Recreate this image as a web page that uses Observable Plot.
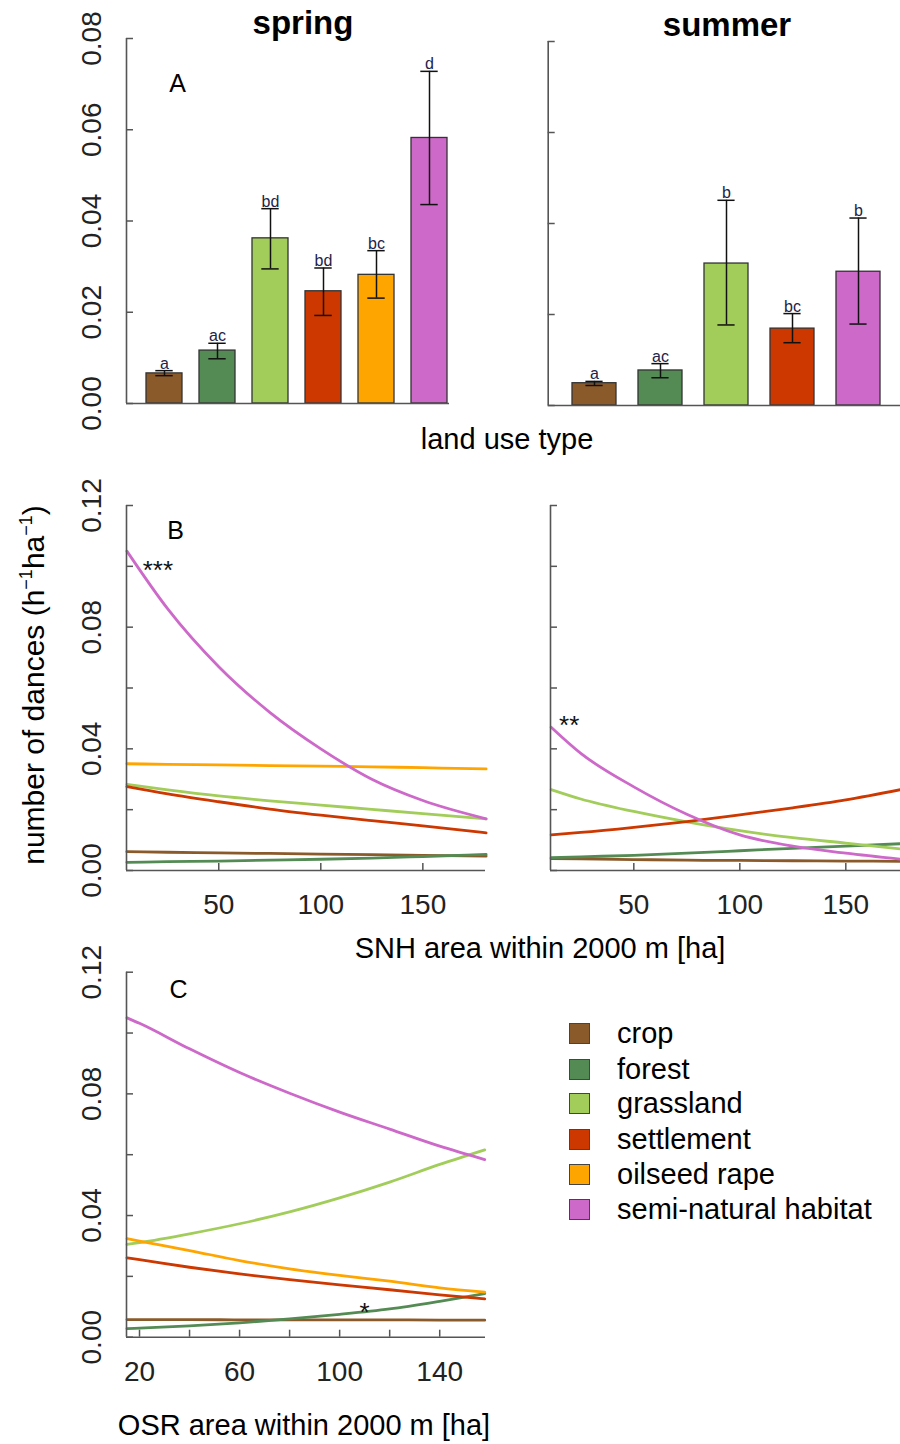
<!DOCTYPE html>
<html><head><meta charset="utf-8">
<script src="https://cdn.jsdelivr.net/npm/d3@7"></script>
<script src="https://cdn.jsdelivr.net/npm/@observablehq/plot@0.6"></script>
<style>
body{margin:0;background:#fff;}
#root{position:relative;width:900px;height:1444px;overflow:hidden;background:#fff;font-family:"Liberation Sans",Arial,sans-serif;color:#000;}
.lbl{position:absolute;white-space:nowrap;line-height:1;transform:translate(-50%,-50%);}
.leg{position:absolute;display:flex;align-items:center;white-space:nowrap;font-size:29px;line-height:1;}
.sw{width:21px;height:21px;border:1px solid #444;box-sizing:border-box;margin-right:27px;}
</style></head><body><div id="root"></div><script>
// ---------- data ----------
const categories = ["crop","forest","grassland","settlement","oilseed rape","semi-natural habitat"];
const colors = ["#8B5A2B","#548B54","#A2CD5A","#CD3700","#FFA500","#CD69C9"];

// Panel A: mean number of dances per land use type (h-1 ha-1) with error bars
const springCats = ["crop","forest","grassland","settlement","oilseed rape","semi-natural habitat"];
const springMean = [0.0066,0.0116,0.0362,0.0246,0.0282,0.0582];
const springLo   = [0.0061,0.0098,0.0295,0.0193,0.0231,0.0436];
const springHi   = [0.0072,0.0132,0.0427,0.0297,0.0335,0.0728];
const springLetters = ["a","ac","bd","bd","bc","d"];

const summerCats = ["crop","forest","grassland","settlement","semi-natural habitat"];
const summerMean = [0.0049,0.0077,0.0312,0.0169,0.0294];
const summerLo   = [0.0044,0.0061,0.0177,0.0138,0.0179];
const summerHi   = [0.0053,0.0092,0.0451,0.0202,0.0412];
const summerLetters = ["a","ac","b","bc","b"];

// Panel B: predicted dances vs SNH area within 2000 m (ha)
const bSpringX = [5,25,50,75,100,125,150,181];
const bSpringY = [ // crop, forest, grassland, settlement, oilseed rape, semi-natural habitat
  [0.0062,0.0060,0.0058,0.0056,0.0054,0.0052,0.0050,0.0047],
  [0.0027,0.0029,0.0031,0.0034,0.0037,0.0041,0.0046,0.0053],
  [0.0283,0.0265,0.0245,0.0229,0.0215,0.0201,0.0187,0.0170],
  [0.0276,0.0252,0.0226,0.0202,0.0182,0.0164,0.0147,0.0124],
  [0.0351,0.0349,0.0347,0.0345,0.0343,0.0341,0.0338,0.0334],
  [0.1050,0.0860,0.0670,0.0520,0.0400,0.0300,0.0230,0.0170]
];
const bSummerX = [11,25,50,75,100,125,150,176];
const bSummerY = [ // crop, forest, grassland, settlement, semi-natural habitat
  [0.0039,0.0038,0.0036,0.0034,0.0033,0.0032,0.0031,0.0030],
  [0.0042,0.0045,0.0050,0.0057,0.0065,0.0073,0.0080,0.0088],
  [0.0266,0.0235,0.0194,0.0160,0.0131,0.0108,0.0090,0.0071],
  [0.0117,0.0125,0.0142,0.0161,0.0183,0.0206,0.0232,0.0266],
  [0.0471,0.0385,0.0275,0.0185,0.0117,0.0080,0.0057,0.0037]
];
// Panel C: predicted dances vs OSR area within 2000 m (ha), spring
const cX = [15,20,40,60,80,100,120,140,158];
const cY = [ // crop, forest, grassland, settlement, oilseed rape, semi-natural habitat
  [0.0058,0.0058,0.0058,0.0057,0.0057,0.0057,0.0057,0.0056,0.0056],
  [0.0028,0.0030,0.0037,0.0047,0.0060,0.0075,0.0093,0.0118,0.0143],
  [0.0305,0.0311,0.0340,0.0373,0.0412,0.0458,0.0510,0.0568,0.0616],
  [0.0261,0.0255,0.0230,0.0208,0.0189,0.0172,0.0156,0.0139,0.0126],
  [0.0324,0.0316,0.0285,0.0252,0.0225,0.0203,0.0184,0.0162,0.0148],
  [0.1050,0.1032,0.0948,0.0870,0.0802,0.0740,0.0684,0.0628,0.0584]
];

const yTicksA = [0,0.02,0.04,0.06,0.08];
const yTicksB = [0,0.02,0.04,0.06,0.08,0.10,0.12];
const yLabelsB = [0,0.04,0.08,0.12];
const xTicksB = [50,100,150];
const xTicksC = [20,40,60,80,100,120,140];
const xLabelsC = [20,60,100,140];

// ---------- drawing ----------
const root = document.getElementById("root");
const FONT = "Liberation Sans, Arial, sans-serif";
const AX = "#555";

function place(svg, left, top){
  svg.style.position = "absolute";
  svg.style.left = left + "px";
  svg.style.top = top + "px";
  svg.style.maxWidth = "none";
  svg.style.overflow = "visible";
  root.appendChild(svg);
}

function yLabelMark(ticks){
  return Plot.text(ticks, {y:d=>d, frameAnchor:"left", textAnchor:"middle", lineAnchor:"middle",
    dx:-34, rotate:-90, text:d=>d.toFixed(2), fontSize:28, fill:"#222"});
}
function panelMark(o){
  return Plot.text([o.panel], {frameAnchor:"top-left", textAnchor:"middle", lineAnchor:"middle",
    dx:o.panelDx, dy:o.panelDy, text:d=>d, fontSize:25});
}

function barPanel(o){
  const data = o.cats.map((c,i)=>({cat:c, mean:o.mean[i], lo:o.lo[i], hi:o.hi[i], letter:o.letters[i]}));
  const fw = o.width - o.ml - o.mr;
  const marks = [
    Plot.barY(data, {x:"cat", y:"mean", fill:"cat", stroke:"#333", strokeWidth:1.3}),
    Plot.ruleX(data, {x:"cat", y1:"lo", y2:"hi", stroke:"#111", strokeWidth:1.5}),
    Plot.tickY(data, {x:"cat", y:"hi", stroke:"#111", strokeWidth:1.5, insetLeft:o.capInset, insetRight:o.capInset}),
    Plot.tickY(data, {x:"cat", y:"lo", stroke:"#111", strokeWidth:1.5, insetLeft:o.capInset, insetRight:o.capInset}),
    Plot.text(data, {x:"cat", y:"hi", text:"letter", lineAnchor:"bottom", dy:-2, fill:"#23234a", fontSize:16}),
    Plot.ruleY([0], {stroke:AX, strokeWidth:1.6}),
    Plot.ruleX([0], {x:null, y1:0, y2:0.08, dx:-fw/2, stroke:AX, strokeWidth:1.6}),
    Plot.tickY(yTicksA, {y:d=>d, insetRight:fw-7, stroke:AX, strokeWidth:1.5})
  ];
  if (o.yLabels) marks.push(yLabelMark(yTicksA));
  if (o.panel) marks.push(panelMark(o));
  const svg = Plot.plot({
    width:o.width, height:o.height,
    marginTop:o.mt, marginBottom:o.mb, marginLeft:o.ml, marginRight:o.mr,
    style:{fontFamily:FONT, background:"transparent"},
    x:{domain:o.cats, range:o.range, paddingInner:o.pi, paddingOuter:o.po, axis:null},
    y:{domain:[0,0.08], axis:null},
    color:{domain:categories, range:colors},
    marks
  });
  place(svg, o.left, o.top);
}

function linePanel(o){
  const data = [];
  o.values.forEach((arr,ci)=>arr.forEach((v,i)=>data.push({cat:o.cats[ci], x:o.xs[i], y:v})));
  const fw = o.width - o.ml - o.mr, fh = o.height - o.mt - o.mb;
  const marks = [
    Plot.line(data, {x:"x", y:"y", z:"cat", stroke:"cat", strokeWidth:2.8, curve:"monotone-x"}),
    Plot.ruleY([0], {stroke:AX, strokeWidth:1.6}),
    Plot.ruleX([o.xDomain[0]], {y1:0, y2:0.12, stroke:AX, strokeWidth:1.6}),
    Plot.tickY(yTicksB, {y:d=>d, insetRight:fw-7, stroke:AX, strokeWidth:1.5}),
    Plot.tickX(o.xTicks, {x:d=>d, insetTop:fh-7, stroke:AX, strokeWidth:1.5}),
    Plot.text(o.xLabels, {x:d=>d, frameAnchor:"bottom", textAnchor:"middle", lineAnchor:"middle", dy:35, text:d=>String(d), fontSize:28, fill:"#222"})
  ];
  if (o.yLabels) marks.push(yLabelMark(yLabelsB));
  if (o.panel) marks.push(panelMark(o));
  if (o.star) marks.push(Plot.text([o.star], {x:d=>o.xs[d.i], y:d=>o.values[d.c][d.i], text:d=>d.label, dx:o.star.dx, dy:o.star.dy, fontSize:26, fill:"#111"}));
  const svg = Plot.plot({
    width:o.width, height:o.height,
    marginTop:o.mt, marginBottom:o.mb, marginLeft:o.ml, marginRight:o.mr,
    style:{fontFamily:FONT, background:"transparent"},
    x:{domain:o.xDomain, axis:null},
    y:{domain:[0,0.12], axis:null},
    color:{domain:categories, range:colors},
    marks
  });
  place(svg, o.left, o.top);
}

barPanel({cats:springCats, mean:springMean, lo:springLo, hi:springHi, letters:springLetters,
  left:0, top:0, width:470, height:440, mt:38, mb:37, ml:126, mr:21,
  range:[126,466.7], pi:0.32, po:0.315, capInset:9.3, yLabels:true, panel:"A", panelDx:51, panelDy:45});
barPanel({cats:summerCats, mean:summerMean, lo:summerLo, hi:summerHi, letters:summerLetters,
  left:470, top:0, width:430, height:440, mt:41, mb:35, ml:77.7, mr:0,
  range:[77.7,435], pi:0.33, po:0.333, capInset:13.4, yLabels:false});

linePanel({xs:bSpringX, values:bSpringY, cats:categories, left:0, top:480, width:500, height:440,
  mt:25, mb:50, ml:126, mr:15, xDomain:[4.8,180.7], xTicks:xTicksB, xLabels:xTicksB, yLabels:true,
  panel:"B", panelDx:49, panelDy:25, star:{c:5, i:0, label:"***", dx:31, dy:20}});
linePanel({xs:bSummerX, values:bSummerY, cats:summerCats, left:500, top:480, width:400, height:440,
  mt:25, mb:50, ml:50, mr:0, xDomain:[10.7,175.8], xTicks:xTicksB, xLabels:xTicksB, yLabels:false,
  star:{c:4, i:0, label:"**", dx:18, dy:-2}});
linePanel({xs:cX, values:cY, cats:categories, left:0, top:940, width:500, height:440,
  mt:31.7, mb:43.3, ml:126, mr:15, xDomain:[14.8,158.3], xTicks:xTicksC, xLabels:xLabelsC, yLabels:true,
  panel:"C", panelDx:52, panelDy:18, star:{c:1, i:5, label:"*", dx:25, dy:-2}});

// ---------- text labels ----------
function label(html, x, y, size, extra){
  const d = document.createElement("div");
  d.className = "lbl";
  d.innerHTML = html;
  d.style.left = x + "px"; d.style.top = y + "px"; d.style.fontSize = size + "px";
  if (extra) Object.assign(d.style, extra);
  root.appendChild(d);
}
label("spring", 303, 21.6, 33, {fontWeight:"bold"});
label("summer", 727, 23.6, 33, {fontWeight:"bold"});
label("land use type", 507, 439, 29);
label("SNH area within 2000 m [ha]", 540, 948, 29);
label("OSR area within 2000 m [ha]", 304, 1425, 29);
label("number of dances (h<sup style='font-size:0.6em;vertical-align:0.7em'>−1</sup>ha<sup style='font-size:0.6em;vertical-align:0.7em'>−1</sup>)", 33, 685, 30,
  {transform:"translate(-50%,-50%) rotate(-90deg)"});

// ---------- legend ----------
const legTop = [1033,1069,1103,1139,1174,1209];
categories.forEach((c,i)=>{
  const row = document.createElement("div");
  row.className = "leg";
  row.style.left = "569px";
  row.style.top = (legTop[i]-15) + "px";
  row.style.height = "30px";
  row.innerHTML = `<div class="sw" style="background:${colors[i]}"></div><span>${c}</span>`;
  root.appendChild(row);
});
</script></body></html>
